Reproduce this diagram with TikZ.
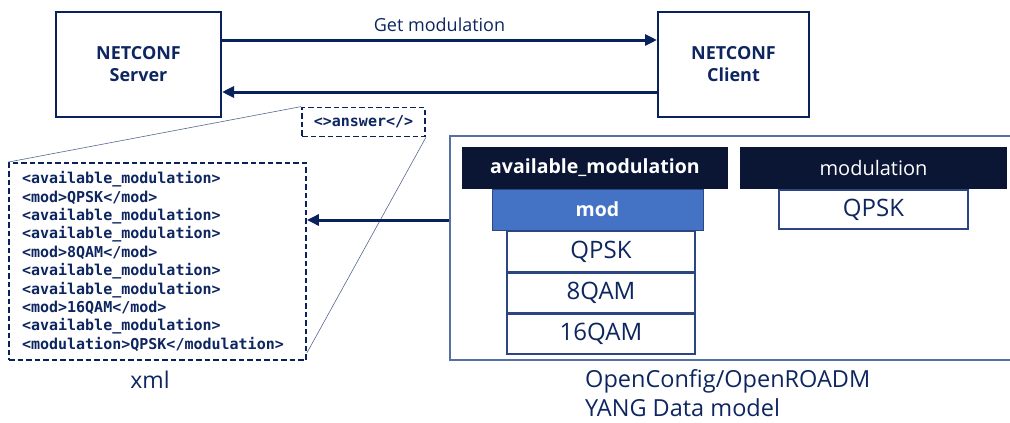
\documentclass[tikz,border=0pt]{standalone}
\usepackage{fontspec}
\setmainfont{Open Sans}
\setmonofont{DejaVu Sans Mono}
\usetikzlibrary{positioning,calc}
\usetikzlibrary{arrows.meta}
\definecolor{NavyTxt}{RGB}{14,38,96}
\definecolor{LineNavy}{RGB}{10,34,92}
\definecolor{HeadDark}{RGB}{10,22,52}
\definecolor{ModBlue}{RGB}{68,114,196}
\definecolor{FrameBlue}{RGB}{84,112,165}
\definecolor{ValNavy}{RGB}{44,70,130}
\tikzset{
  peer/.style={draw=LineNavy,line width=2pt,fill=white,minimum height=105pt,align=center,
    text=NavyTxt,font=\bfseries\fontsize{18}{22}\selectfont},
  flow/.style={draw=LineNavy,line width=3pt,-{Triangle[length=12pt,width=11pt]}},
  dashbox/.style={draw=LineNavy,line width=1.8pt,dash pattern=on 5.5pt off 3pt,fill=white,
    text=NavyTxt,font=\ttfamily\bfseries\fontsize{15}{18.4}\selectfont},
  zoomline/.style={draw=NavyTxt!70,line width=0.6pt},
  headbox/.style={fill=HeadDark,text=white,minimum height=42pt,inner sep=0pt},
  valbox/.style={draw=ValNavy,line width=1.4pt,fill=white,text=NavyTxt,minimum height=40pt,
    inner sep=0pt,font=\fontsize{24}{28}\selectfont},
  caption/.style={text=NavyTxt,inner sep=0pt},
}
\begin{document}
\begin{tikzpicture}[x=1pt,y=-1pt]
\useasboundingbox (0,0) rectangle (1010,423);
\node[peer,minimum width=165pt] (server) at (138.5,64.5) {NETCONF\\Server};
\node[peer,minimum width=151pt] (client) at (733.5,64.5) {NETCONF\\Client};
\draw[flow] (server.east |- 0,40) -- (client.west |- 0,40)
  node[midway,above=7pt,caption,font=\fontsize{18}{22}\selectfont] (get) {Get modulation};
\draw[flow] (client.west |- 0,92) -- (server.east |- 0,92);
\node[dashbox,minimum width=123pt,minimum height=29pt,inner sep=0pt] (ans) at (363.5,122) {<>answer</>};
\node[dashbox,minimum height=197pt,text width=271pt,inner xsep=13pt,align=left] (xmlbox) at (157.5,261.5)
  {<available\_modulation>\\<mod>QPSK</mod>\\<available\_modulation>\\<available\_modulation>\\
   <mod>8QAM</mod>\\<available\_modulation>\\<available\_modulation>\\<mod>16QAM</mod>\\
   <available\_modulation>\\<modulation>QPSK</modulation>};
\draw[zoomline] (ans.north west) -- (xmlbox.north west);
\draw[zoomline] (ans.south east) -- ([yshift=8pt]xmlbox.south east);
\node[caption,font=\fontsize{23}{27}\selectfont] (xmllabel) at (150,380) {xml};
\node[draw=FrameBlue,line width=1.2pt,minimum width=570pt,minimum height=224pt,inner sep=0pt] (yang) at (735,248) {};
\draw[flow] (yang.west |- 0,220) -- (xmlbox.east |- 0,220);
\node[headbox,minimum width=266pt,font=\bfseries\fontsize{19.5}{24}\selectfont] (avhead) at (595,168) {available\_modulation};
\node[headbox,fill=ModBlue,draw=ValNavy,line width=0.8pt,minimum width=211pt,minimum height=41pt,
  font=\bfseries\fontsize{19.5}{24}\selectfont] (mod) at (597.5,209.5) {mod};
\foreach \v/\y/\n in {QPSK/251.5/vq,8QAM/293/ve,16QAM/334/vs}
  \node[valbox,minimum width=188pt] (\n) at (601,\y) {\v};
\node[headbox,minimum width=267pt,font=\fontsize{20}{24}\selectfont] (modhead) at (873.5,168) {modulation};
\node[valbox,minimum width=189pt,minimum height=39pt] (modval) at (873.5,209.5) {QPSK};
\node[caption,anchor=west,align=left,font=\fontsize{23.5}{29}\selectfont] (yanglabel) at (585,393)
  {OpenConfig/OpenROADM\\YANG Data model};
\end{tikzpicture}
\end{document}
